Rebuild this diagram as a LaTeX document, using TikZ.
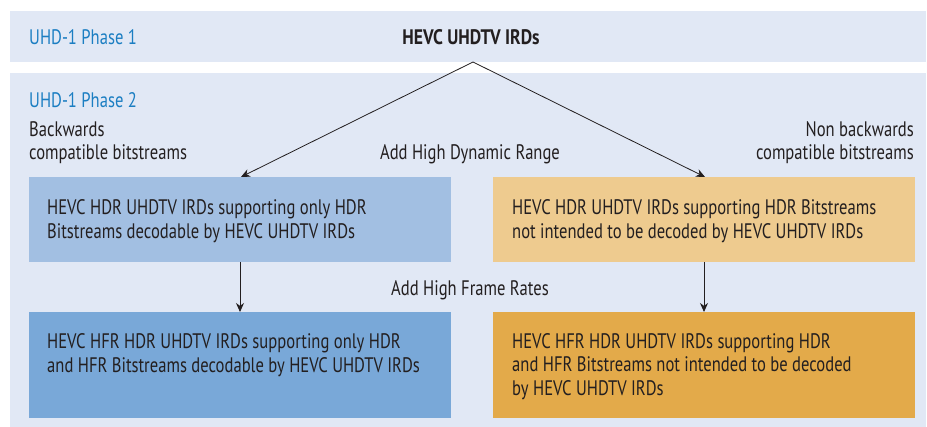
\documentclass[tikz,border=0pt]{standalone}
\usepackage{fontspec}
\setmainfont{PT Sans}[FakeStretch=0.79, BoldFeatures={FakeStretch=0.84}]
\usetikzlibrary{arrows.meta}
\definecolor{band}{HTML}{E1E8F5}
\definecolor{phase}{HTML}{1B7EC2}
\definecolor{ink}{HTML}{231F20}
\definecolor{bluelt}{HTML}{A2BFE2}
\definecolor{bluedk}{HTML}{79A8D8}
\definecolor{orglt}{HTML}{EECB8F}
\definecolor{orgdk}{HTML}{E3AA4A}
\tikzset{
  lbl/.style={inner sep=0pt, text=ink, font=\fontsize{21}{23.5}\selectfont},
  phaselbl/.style={lbl, text=phase},
  boxtxt/.style={lbl, align=left},
  conn/.style={draw=ink, line width=0.8pt, -{Stealth[length=9pt,width=8pt]}},
}
\begin{document}
\begin{tikzpicture}[x=1pt,y=-1pt]
  \useasboundingbox (0,0) rectangle (927,427);
  \fill[white] (0,0) rectangle (927,427);
  % phase bands
  \fill[band] (10,11) rectangle (926,62);
  \fill[band] (10,73) rectangle (926,427);
  % IRD boxes
  \fill[bluelt] (29,177) rectangle (451,262);
  \fill[orglt] (493,177) rectangle (915,262);
  \fill[bluedk] (29,312) rectangle (451,418);
  \fill[orgdk] (493,312) rectangle (915,418);
  \coordinate (b1top) at (241,177);
  \coordinate (b2top) at (705,177);
  \coordinate (b1bot) at (240,262);
  \coordinate (b2bot) at (704,262);
  \coordinate (b3top) at (240,312);
  \coordinate (b4top) at (704,312);
  \coordinate (apex) at (473,62);

  % multi-line texts are placed by the baseline of their last line
  \node[phaselbl, anchor=base west] (p1) at (29,45) {UHD-1 Phase 1};
  \node[lbl, anchor=base, font=\fontsize{21}{23.5}\selectfont\bfseries] (root) at (471,45) {HEVC UHDTV IRDs};
  \node[phaselbl, anchor=base west] (p2) at (29,107.3) {UHD-1 Phase 2};
  \node[lbl, anchor=base west, align=left] (bc) at (29,160) {Backwards\\compatible bitstreams};
  \node[lbl, anchor=base east, align=right] (nbc) at (914,160) {Non backwards\\compatible bitstreams};
  \node[lbl, anchor=base] (hdr) at (470,160) {Add High Dynamic Range};
  \node[lbl, anchor=base] (hfr) at (470,296) {Add High Frame Rates};

  \node[boxtxt, anchor=base west] (t1) at (47,238.3) {HEVC HDR UHDTV IRDs supporting only HDR\\Bitstreams decodable by HEVC UHDTV IRDs};
  \node[boxtxt, anchor=base west] (t2) at (512,238.3) {HEVC HDR UHDTV IRDs supporting HDR Bitstreams\\not intended to be decoded by HEVC UHDTV IRDs};
  \node[boxtxt, anchor=base west] (t3) at (47,372.3) {HEVC HFR HDR UHDTV IRDs supporting only HDR\\and HFR Bitstreams decodable by HEVC UHDTV IRDs};
  \node[boxtxt, anchor=base west] (t4) at (512,395.5) {HEVC HFR HDR UHDTV IRDs supporting HDR\\and HFR Bitstreams not intended to be decoded\\by HEVC UHDTV IRDs};

  \draw[conn] (apex) -- (b1top);
  \draw[conn] (apex) -- (b2top);
  \draw[conn] (b1bot) -- (b3top);
  \draw[conn] (b2bot) -- (b4top);
\end{tikzpicture}
\end{document}
